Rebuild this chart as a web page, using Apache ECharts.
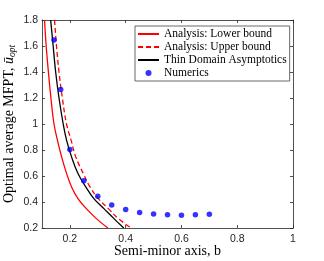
<!DOCTYPE html>
<html>
<head>
<meta charset="utf-8">
<script src="https://cdn.jsdelivr.net/npm/echarts@6/dist/echarts.min.js"></script>
<style>html,body{margin:0;padding:0;background:#fff}#c{width:324px;height:261px}</style>
</head>
<body>
<div id="c"></div>
<script>
// Analysis: Lower bound (red solid)
const lowB = [0.109,0.115,0.123,0.132,0.143,0.157,0.170,0.188,0.206,0.229,0.259,0.295,0.336];
const lowU = [1.8,1.6,1.4,1.2,1.0,0.86,0.75,0.62,0.516,0.426,0.349,0.272,0.2];
// Analysis: Upper bound (red dashed)
const upB = [0.145,0.152,0.161,0.173,0.188,0.205,0.221,0.248,0.272,0.302,0.338,0.374,0.42];
const upU = [1.8,1.6,1.4,1.2,1.0,0.87,0.747,0.619,0.516,0.426,0.349,0.272,0.2];
// Thin Domain Asymptotics (black)
const thinB = [0.131,0.138,0.149,0.161,0.176,0.188,0.206,0.229,0.257,0.286,0.322,0.358,0.393];
const thinU = [1.8,1.646,1.4,1.2,1.0,0.876,0.747,0.619,0.516,0.426,0.349,0.272,0.2];
// Numerics (blue dots)
const numB = [0.143,0.167,0.2,0.25,0.3,0.35,0.4,0.45,0.5,0.55,0.6,0.65,0.7];
const numU = [1.646,1.266,0.804,0.563,0.444,0.376,0.343,0.320,0.307,0.301,0.298,0.302,0.306];
// tick labels
const xTicks = [0.2,0.4,0.6,0.8,1];
const yTicks = [0.2,0.4,0.6,0.8,1,1.2,1.4,1.6,1.8];
const seriesNames = ['Analysis: Lower bound','Analysis: Upper bound','Thin Domain Asymptotics','Numerics'];

const zip = (a,b) => a.map((v,i)=>[v,b[i]]);
const axisCol = '#262626';
const serif = '"Liberation Serif","DejaVu Serif",serif';
const sans = '"Liberation Sans",Arial,sans-serif';

const chart = echarts.init(document.getElementById('c'), null, {renderer:'canvas'});
const tickCommon = {show:true, inside:true, length:3, lineStyle:{color:axisCol, width:0.8}};
const hidden = {opacity:0};
chart.setOption({
  animation:false,
  backgroundColor:'#fff',
  grid:{left:42, right:31, top:20, bottom:33, containLabel:false, outerBoundsMode:'none'},
  xAxis:[{
    type:'value', min:0.1, max:1, position:'bottom',
    axisLine:{show:true, onZero:false, lineStyle:{color:axisCol, width:0.8}},
    axisTick:Object.assign({customValues:xTicks}, tickCommon),
    axisLabel:{customValues:xTicks, fontFamily:sans, fontSize:10.5, color:axisCol, margin:6,
      formatter:v=>String(+v.toFixed(1))},
    splitLine:{show:false},
    name:'Semi-minor axis, b', nameLocation:'middle', nameGap:16, nameMoveOverlap:false,
    nameTextStyle:{fontFamily:serif, fontSize:14, color:'#000'}
  },{
    type:'value', min:0.1, max:1, position:'top',
    axisLine:{show:true, onZero:false, lineStyle:{color:axisCol, width:0.8}},
    axisTick:Object.assign({customValues:xTicks}, tickCommon),
    axisLabel:{show:false}, splitLine:{show:false}
  }],
  yAxis:[{
    type:'value', min:0.2, max:1.8, interval:0.2, position:'left',
    axisLine:{show:true, onZero:false, lineStyle:{color:axisCol, width:0.8}},
    axisTick:tickCommon,
    axisLabel:{customValues:yTicks, fontFamily:sans, fontSize:10.5, color:axisCol, margin:4,
      formatter:v=>String(+v.toFixed(1))},
    splitLine:{show:false},
    name:'{a|Optimal average MFPT, }{u|ū}{s|opt}', nameLocation:'middle', nameGap:25, nameRotate:90,
    nameMoveOverlap:false,
    nameTextStyle:{rich:{
      a:{fontFamily:serif, fontSize:14, color:'#000'},
      u:{fontFamily:serif, fontSize:14, fontStyle:'italic', color:'#000'},
      s:{fontFamily:serif, fontSize:9.5, fontStyle:'italic', color:'#000', verticalAlign:'bottom', padding:[5,0,0,0]}
    }}
  },{
    type:'value', min:0.2, max:1.8, interval:0.2, position:'right',
    axisLine:{show:true, onZero:false, lineStyle:{color:axisCol, width:0.8}},
    axisTick:tickCommon, axisLabel:{show:false}, splitLine:{show:false}
  }],
  legend:{
    orient:'vertical', left:135, top:26,
    data:[
      {name:seriesNames[0], itemStyle:hidden},
      {name:seriesNames[1], itemStyle:hidden},
      {name:seriesNames[2], itemStyle:hidden},
      {name:seriesNames[3], icon:'circle'}
    ],
    itemWidth:21, itemHeight:6, itemGap:1,
    padding:[2,3,2,2],
    backgroundColor:'#fff', borderColor:'#444', borderWidth:0.8, borderRadius:0,
    textStyle:{fontFamily:serif, fontSize:11.5, color:'#000'}
  },
  series:[
    {name:seriesNames[0], type:'line', data:zip(lowB,lowU), symbol:'none', smooth:0.4, clip:true,
      lineStyle:{color:'#ff0000', width:1.3}, itemStyle:{color:'#ff0000'}, z:3},
    {name:seriesNames[1], type:'line', data:zip(upB,upU), symbol:'none', smooth:0.4, clip:true,
      lineStyle:{color:'#ff0000', width:1.3, type:[5,3]}, itemStyle:{color:'#ff0000'}, z:3},
    {name:seriesNames[2], type:'line', data:zip(thinB,thinU), symbol:'none', smooth:0.4, clip:true,
      lineStyle:{color:'#000000', width:1.3}, itemStyle:{color:'#000'}, z:3},
    {name:seriesNames[3], type:'scatter', data:zip(numB,numU), symbol:'circle', symbolSize:5.5,
      itemStyle:{color:'#0000ff'}, z:4}
  ]
});
</script>
</body>
</html>
